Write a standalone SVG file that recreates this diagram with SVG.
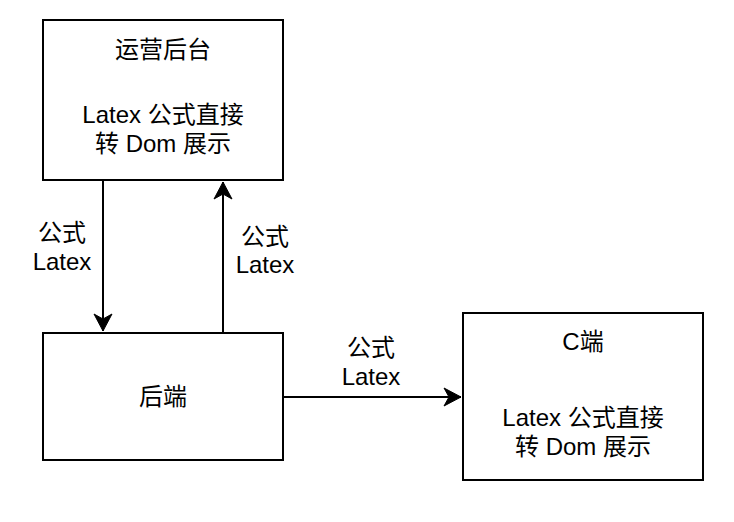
<svg xmlns="http://www.w3.org/2000/svg" width="734" height="522" viewBox="0 0 734 522">
<defs>
<style>
.box{fill:#fff;stroke:#000;stroke-width:2}
.t{font-family:"Liberation Sans","Noto Sans CJK SC",sans-serif;font-size:24px;fill:#000;text-anchor:middle}
.edge{fill:none;stroke:#000;stroke-width:2}
</style>
<marker id="arr" markerUnits="userSpaceOnUse" markerWidth="20" markerHeight="20" viewBox="-18 -10 20 20" refX="0" refY="0" orient="auto">
<path d="M0,0 L-17,-9 L-12,0 L-17,9 Z" fill="#000" stroke="#000" stroke-width="1"/>
</marker>
</defs>
<rect width="734" height="522" fill="#fff"/>
<g id="edges">
<line class="edge" x1="103" y1="180" x2="103" y2="331" marker-end="url(#arr)"/>
<line class="edge" x1="223" y1="333" x2="223" y2="182" marker-end="url(#arr)"/>
<line class="edge" x1="283" y1="397" x2="461" y2="397" marker-end="url(#arr)"/>
<text class="t" x="62" y="241">公式</text>
<text class="t" x="62" y="270">Latex</text>
<text class="t" x="265" y="245">公式</text>
<text class="t" x="265" y="273">Latex</text>
<text class="t" x="371" y="356">公式</text>
<text class="t" x="371" y="385">Latex</text>
</g>
<g id="node-ops">
<rect class="box" x="43" y="20" width="240" height="160"/>
<text class="t" x="163" y="58">运营后台</text>
<text class="t" x="163" y="123">Latex 公式直接</text>
<text class="t" x="163" y="152">转 Dom 展示</text>
</g>
<g id="node-backend">
<rect class="box" x="43" y="333" width="240" height="127"/>
<text class="t" x="163" y="405">后端</text>
</g>
<g id="node-c">
<rect class="box" x="463" y="313" width="240" height="167"/>
<text class="t" x="583" y="350">C端</text>
<text class="t" x="583" y="426">Latex 公式直接</text>
<text class="t" x="583" y="455">转 Dom 展示</text>
</g>
</svg>
